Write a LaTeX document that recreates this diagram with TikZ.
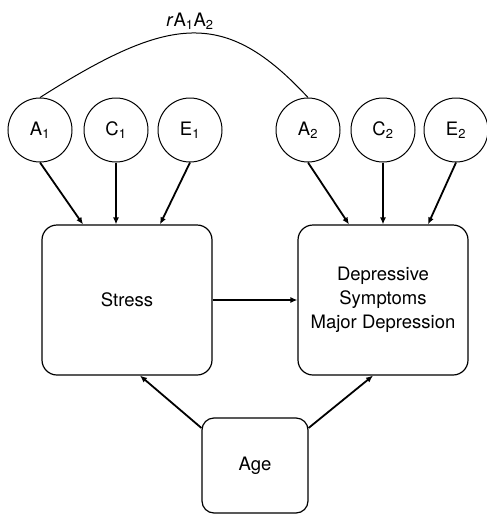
\documentclass[tikz,border=0pt]{standalone}
\usepackage{fontspec}
\setmainfont{TeX Gyre Heros}
\usepackage{tikz}
\usetikzlibrary{calc,arrows.meta,shapes,positioning}

\tikzset{
	factor/.style={circle, draw, line width=1bp, minimum size=64bp, inner sep=0pt},
	measure/.style={rectangle, draw, line width=1.2bp, rounded corners=15bp, align=center},
	path/.style={->, line width=1.8bp}
}

\begin{document}
\begin{tikzpicture}[>={Latex[length=7bp,width=6bp]}, font=\fontsize{18.5bp}{24bp}\selectfont]
	\useasboundingbox (0bp,0bp) rectangle (487bp,-517bp);

	\node (A1)  at (40bp,-130bp)   [factor]  {A\textsubscript{1}};
	\node (C1)  at (116bp,-130bp)  [factor]  {C\textsubscript{1}};
	\node (E1)  at (190bp,-130bp)  [factor]  {E\textsubscript{1}};
	\node (A2)  at (308bp,-130bp)  [factor]  {A\textsubscript{2}};
	\node (C2)  at (383bp,-130bp)  [factor]  {C\textsubscript{2}};
	\node (E2)  at (456bp,-130bp)  [factor]  {E\textsubscript{2}};

	\node (Stress) at (127bp,-300bp) [measure, minimum width=170bp, minimum height=150bp] {Stress};
	\node (Dep)    at (383bp,-300bp) [measure, minimum width=170bp, minimum height=150bp] {Depressive\\Symptoms\\Major Depression};
	\node (Age)    at (255bp,-465.5bp) [measure, rounded corners=12bp, minimum width=106bp, minimum height=95bp] {Age};

	\node (rA) at (190bp,-21bp) {\textit{r}A\textsubscript{1}A\textsubscript{2}};

	\draw [line width=1bp] (A1.north) .. controls (170bp,-15bp) and (225bp,-8bp) .. (A2.north);

	\draw [path]  (A1.south) -- ($(Stress.north)+(-44bp,0)$);
	\draw [path]  (C1.south) -- ($(Stress.north)+(-11bp,0)$);
	\draw [path]  (E1.south) -- ($(Stress.north)+(33bp,0)$);
	\draw [path]  (A2.south) -- ($(Dep.north)+(-34bp,0)$);
	\draw [path]  (C2.south) -- (Dep.north);
	\draw [path]  (E2.south) -- ($(Dep.north)+(45bp,0)$);
	\draw [path]  (Stress.east) -- (Dep.west);
	\draw [path]  (Age.145) -- ($(Stress.south)+(13bp,0)$);
	\draw [path]  (Age.35) -- ($(Dep.south)+(-10bp,0)$);
\end{tikzpicture}
\end{document}
